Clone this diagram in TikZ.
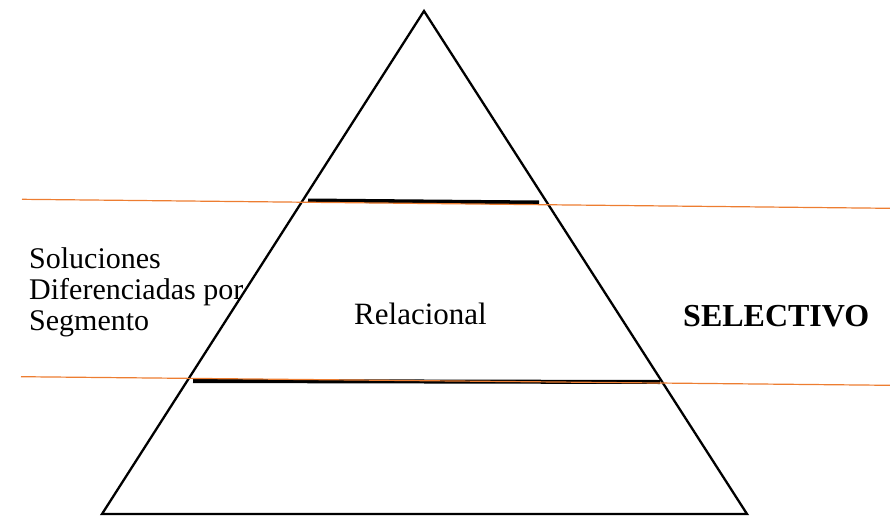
\documentclass[tikz,border=0pt]{standalone}
\usepackage{fontspec}
\setmainfont{Liberation Serif}
\definecolor{offorange}{RGB}{237,125,49}
\tikzset{
  tri/.style={draw=black, line width=2.3pt, line join=miter},
  bar/.style={draw=black, line width=4pt},
  guide/.style={draw=offorange, line width=1.2pt},
  lbl/.style={inner sep=0pt, anchor=base west, font=\fontsize{30}{31}\selectfont},
  rel lbl/.style={lbl, font=\fontsize{31}{32}\selectfont},
  bold lbl/.style={lbl, font=\fontsize{32}{33}\selectfont\bfseries}
}
\begin{document}
\begin{tikzpicture}[x=1pt, y=-1pt]
\useasboundingbox (0,0) rectangle (890,516);
% triangle
\coordinate (apex) at (424,11);
\coordinate (bl) at (102,514);
\coordinate (br) at (747,514);
\draw[tri] (apex) -- (bl) -- (br) -- cycle;
% black bars
\coordinate (u1) at (308,200.5);
\coordinate (u2) at (539,202.5);
\coordinate (l1) at (193,381);
\coordinate (l2) at (660,382);
\draw[bar] (u1) -- (u2);
\draw[bar] (l1) -- (l2);
% orange guide lines
\coordinate (o1a) at (22,199.3);
\coordinate (o1b) at (890,208.3);
\coordinate (o2a) at (21,376.7);
\coordinate (o2b) at (890,385.3);
\draw[guide] (o1a) -- (o1b);
\draw[guide] (o2a) -- (o2b);
% texts
\node[lbl] (sol1) at (29,268) {Soluciones};
\node[lbl] (sol2) at (29,299) {Diferenciadas por};
\node[lbl] (sol3) at (29,330) {Segmento};
\node[rel lbl] (rel) at (354,324) {Relacional};
\node[bold lbl] (sel) at (683,326) {SELECTIVO};
\end{tikzpicture}
\end{document}
